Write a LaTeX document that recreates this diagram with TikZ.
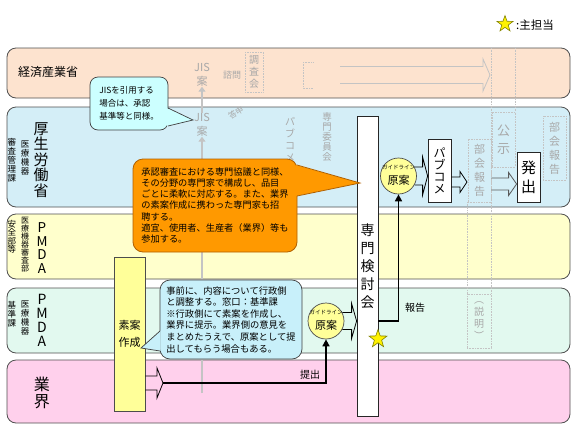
\documentclass[tikz,border=0pt]{standalone}
\usepackage{fontspec}
\setmainfont{Noto Sans CJK JP}
\usetikzlibrary{shapes.geometric,arrows.meta,calc}
\newcommand{\fs}[2]{\fontsize{#1}{#2}\selectfont\lineskiplimit=-100pt\lineskip=0pt\relax}
\newcommand{\fatarr}[6][black]{%
 \draw[draw=#1, line width=0.8pt, line join=miter] let \p1=(#2), \p2=(#3) in
 (\x1,\y1+#4) -- (\x2-#6,\y1+#4) -- (\x2-#6,\y1+#5) -- (\x2,\y1) -- (\x2-#6,\y1-#5) -- (\x2-#6,\y1-#4) -- (\x1,\y1-#4);}
\definecolor{laneA}{HTML}{FDE3CF}
\definecolor{laneB}{HTML}{D4EEF7}
\definecolor{laneC}{HTML}{FFFFCC}
\definecolor{laneD}{HTML}{E2F9EF}
\definecolor{laneE}{HTML}{FFD0EC}
\definecolor{laneline}{HTML}{505050}
\definecolor{ghosttxt}{HTML}{A8A8A8}
\definecolor{ghostline}{HTML}{C4C4C4}
\definecolor{orfill}{HTML}{FF9900}
\definecolor{orline}{HTML}{B06000}
\definecolor{jisfill}{HTML}{CCFFFF}
\definecolor{notefill}{HTML}{C8F0FA}
\definecolor{calloutline}{HTML}{404040}
\definecolor{soanfill}{HTML}{FFFF99}
\definecolor{starline}{HTML}{808000}
\tikzset{
 lane/.style={draw=laneline, line width=0.8pt, rounded corners=9pt},
 vt/.style={align=center, inner sep=0pt},
 ghost/.style={text=ghosttxt, align=center, inner sep=0pt},
 ghostbox/.style={draw=ghostline, densely dotted, line width=0.6pt},
 box/.style={draw=black!85, fill=white, line width=0.8pt, inner sep=0pt, align=center},
 conn/.style={draw=black, line width=1.6pt},
 tipc/.style={-{Triangle[length=7pt,width=7pt]}},
 circ/.style={circle, draw=black!70, fill=soanfill, line width=0.7pt, minimum size=36pt, inner sep=0pt, align=center},
 starn/.style={star, star points=5, star point ratio=2.5, fill=yellow, draw=starline, line width=0.6pt, inner sep=0pt}
}
\begin{document}
\begin{tikzpicture}[x=1pt,y=-1pt]
\useasboundingbox (0,0) rectangle (576,432);
% legend
\node[starn, minimum size=17pt] (legstar) at (505,24) {};
\node[anchor=west, font=\fs{11.5}{13}, inner sep=0pt] (legtxt) at (516,25) {:主担当};
% lanes
\draw[lane, fill=laneA] (7,48) rectangle (570,98);
\draw[lane, fill=laneB] (7,107) rectangle (570,207);
\draw[lane, fill=laneC] (7,214) rectangle (570,279);
\draw[lane, fill=laneD] (7,288) rectangle (570,353);
\draw[lane, fill=laneE] (7,360) rectangle (570,423);
% lane labels
\node[anchor=west, font=\fs{12}{14}, inner sep=0pt] (meti) at (18,72) {経済産業省};
\node[vt, font=\fs{15}{15.5}] (mhlw) at (41,160) {厚\\生\\労\\働\\省};
\node[vt, font=\fs{8.5}{9}] (mhlw2) at (25,158) {医\\療\\機\\器};
\node[vt, font=\fs{8.5}{9}] (mhlw3) at (12,160) {審\\査\\管\\理\\課};
\node[vt, font=\fs{13.5}{13.5}] (pmda1) at (42,248) {P\\M\\D\\A};
\node[vt, font=\fs{8}{8}] (pmda1b) at (25,245) {医\\療\\機\\器\\審\\査\\部};
\node[vt, font=\fs{8.5}{8.5}] (pmda1c) at (12,237) {安\\全\\部\\等};
\node[vt, font=\fs{14}{14}] (pmda2) at (42,320) {P\\M\\D\\A};
\node[vt, font=\fs{8.5}{9}] (pmda2b) at (25,318) {医\\療\\機\\器};
\node[vt, font=\fs{8.5}{9}] (pmda2c) at (12,314) {基\\準\\課};
\node[vt, font=\fs{16}{17}] (gyokai) at (42,393) {業\\界};
% ghost elements
\node[ghost, font=\fs{11}{14}] (jis1) at (202,75) {JIS\\案};
\node[ghost, font=\fs{9}{10}] (shimon) at (232,75) {諮問};
\node[ghost, font=\fs{10}{12}] (chosa) at (254,72) {調\\査\\会};
\draw[ghostbox] (245,52) rectangle (263,92);
\node[ghost, font=\fs{11}{14}] (jis2) at (202,125) {JIS\\案};
\node[ghost, font=\fs{8}{10}, rotate=32] (toshin) at (236,113) {答申};
\node[ghost, font=\fs{10}{12}] (pabu0) at (290,140) {パ\\ブ\\コ\\メ};
\node[ghost, font=\fs{9.5}{10}] (senmon0) at (327,137) {専\\門\\委\\員\\会};
\draw[ghostline, line width=2pt, -{Triangle[length=5pt,width=7pt]}] (jis2.north) -- (jis1.south);
\draw[ghostline, line width=1.4pt, -{Triangle[length=5pt,width=7pt]}] (202,393) -- (jis2.south);
\fatarr[ghostline]{340,75}{490,75}{8.5}{16}{7}
\draw[ghostbox] (303,62) -- (313,62) (303,62) -- (303,88) -- (313,88);
\draw[ghostbox] (491,48) -- (491,294);
\draw[ghostbox] (467,202) -- (467,294);
\draw[ghostbox] (515,48) -- (515,112);
\node[ghostbox, ghost, minimum width=23pt, minimum height=55pt, font=\fs{13}{18}] (koji) at (503.5,139.5) {公\\示};
\node[ghostbox, ghost, minimum width=23pt, minimum height=63pt, font=\fs{11}{14}] (bukai1) at (479.5,170.5) {部\\会\\報\\告};
\node[ghostbox, ghost, minimum width=23pt, minimum height=64pt, font=\fs{11}{14}] (bukai2) at (554.5,148) {部\\会\\報\\告};
\node[ghostbox, ghost, minimum width=24pt, minimum height=54pt, font=\fs{10}{12}] (setsumei) at (479,321) {︵\\説\\明\\︶};
% main boxes
\node[box, fill=soanfill, draw=black!70, minimum width=31pt, minimum height=154pt, font=\fs{11}{17}] (soan) at (129.5,334) {素案\\作成};
\node[box, minimum width=21pt, minimum height=300pt, font=\fs{14}{18}] (kento) at (367.5,266) {専\\門\\検\\討\\会};
\node[box, minimum width=23pt, minimum height=63pt, font=\fs{12}{12}] (pabu) at (439.5,170.5) {パ\\ブ\\コ\\メ};
\node[box, minimum width=23pt, minimum height=50pt, font=\fs{15}{19}] (hasshutsu) at (528.5,177) {発\\出};
% guideline circles
\node[circ] (gl1) at (326,321) {};
\node[font=\fs{5.5}{6}, inner sep=0pt] (gl1a) at (326,312) {ガイドライン};
\node[font=\fs{11}{12}, inner sep=0pt] (gl1b) at (326,325) {原案};
\node[circ] (gl2) at (398.5,176) {};
\node[font=\fs{5.5}{6}, inner sep=0pt] (gl2a) at (398.5,167) {ガイドライン};
\node[font=\fs{11}{12}, inner sep=0pt] (gl2b) at (398.5,180) {原案};
% fat arrows
\fatarr{soan.east |- 0,383}{163,383}{7}{15}{6}
\coordinate (satip) at (163,383);
\fatarr{$(gl1.east)+(-2,0)$}{kento.west |- gl1}{8.5}{17.5}{5}
\fatarr{$(gl2.east)+(-2,0)$}{pabu.west |- gl2}{9}{19}{5}
\fatarr{pabu.east |- 0,182}{467,182}{5}{10.5}{7}
\fatarr[black!65]{bukai1.east |- 0,184}{hasshutsu.west |- 0,184}{6}{11.5}{8}
% connectors
\draw[conn, tipc] (satip) -| (gl1.south);
\node[font=\fs{10}{12}, inner sep=0pt] (teishutsu) at (310,375) {提出};
\draw[conn, tipc] (kento.east |- gl1) -| (gl2.south);
\node[font=\fs{10}{12}, inner sep=0pt] (hokoku) at (415,308) {報告};
% JIS callout
\node[draw=calloutline, fill=jisfill, rounded corners=8pt, line width=0.7pt, minimum width=78pt, minimum height=53pt, align=left, font=\fs{8.5}{13}, inner sep=2pt] (jisnote) at (129,103.5) {JISを引用する\\場合は、承認\\基準等と同様。};
\fill[jisfill] (166.5,108) -- (193,120) -- (166.5,126) -- cycle;
\draw[calloutline, line width=0.7pt] (168,108) -- (193,120) -- (168,126);
% orange callout
\node[draw=orline, fill=orfill, rounded corners=10pt, line width=0.8pt, minimum width=164pt, minimum height=93pt, align=left, font=\fs{9.2}{11.3}, inner sep=2pt] (note1) at (215,205.5) {承認審査における専門協議と同様、\\その分野の専門家で構成し、品目\\ごとに柔軟に対応する。また、業界\\の素案作成に携わった専門家も招\\聘する。\\適宜、使用者、生産者（業界）等も\\参加する。};
\fill[orfill] (296,165) -- (360,183) -- (296,196) -- cycle;
\draw[orline, line width=0.8pt] (297,165) -- (360,183) -- (297,196);
% second callout
\node[draw=calloutline, fill=notefill, rounded corners=10pt, line width=0.7pt, minimum width=142pt, minimum height=79pt, align=left, font=\fs{9.3}{11.6}, inner sep=2pt] (note2) at (231,319.5) {事前に、内容について行政側\\と調整する。窓口：基準課\\※行政側にて素案を作成し、\\業界に提示。業界側の意見を\\まとめたうえで、原案として提\\出してもらう場合もある。};
\fill[notefill] (160.5,331) -- (141,348) -- (160.5,351) -- cycle;
\draw[calloutline, line width=0.7pt] (160,331) -- (141,348) -- (160,351);
% main star
\node[starn, minimum size=19pt] (mainstar) at (378,339) {};
\end{tikzpicture}
\end{document}
